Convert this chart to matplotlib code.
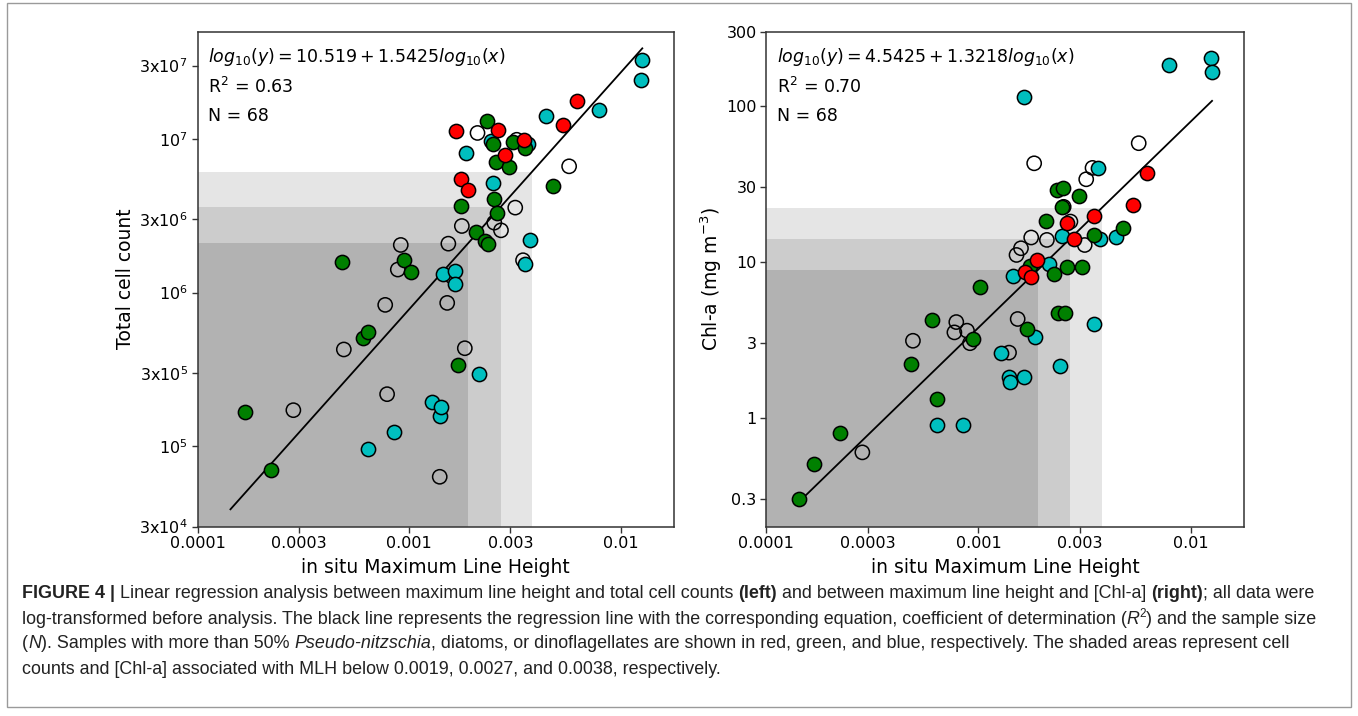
import numpy as np
import matplotlib
matplotlib.use("Agg")
import matplotlib.pyplot as plt
from matplotlib.patches import Rectangle

# ---- data ----
# in situ MLH, total cell count (left), Chl-a (right), per dominant group
green_mlh = [1.431e-4, 1.681e-4, 2.229e-4, 4.82e-4, 6.05e-4, 6.40e-4, 9.47e-4, 1.0165e-3,
             1.694e-3, 1.752e-3, 2.070e-3, 2.278e-3, 2.337e-3, 2.362e-3, 2.480e-3, 2.511e-3,
             2.562e-3, 2.604e-3, 2.972e-3, 3.087e-3, 3.517e-3, 4.80e-3]
green_cells = [2.5e4, 1.672e5, 6.98e4, 1.592e6, 5.07e5, 5.54e5, 1.64e6, 1.356e6,
               3.37e5, 3.66e6, 2.48e6, 2.17e6, 1.302e7, 2.08e6, 9.32e6, 4.07e6,
               7.05e6, 3.27e6, 6.57e6, 9.61e6, 8.73e6, 4.92e6]
green_chla = [0.30, 0.501, 0.799, 2.21, 4.21, 1.31, 3.19, 6.85,
              3.72, 9.39, 18.2, 8.34, 28.9, 4.71, 22.6, 29.6,
              4.71, 9.29, 26.4, 9.29, 14.8, 16.5]

red_mlh = [1.665e-3, 1.762e-3, 1.888e-3, 2.623e-3, 2.830e-3, 3.499e-3, 5.35e-3, 6.23e-3]
red_cells = [1.133e7, 5.46e6, 4.65e6, 1.15e7, 7.91e6, 9.80e6, 1.227e7, 1.765e7]
red_chla = [8.63, 8.01, 10.26, 17.6, 14.0, 19.6, 23.2, 37.3]

cyan_mlh = [6.37e-4, 8.47e-4, 1.277e-3, 1.395e-3, 1.413e-3, 1.447e-3, 1.643e-3, 1.647e-3,
            1.848e-3, 2.138e-3, 2.432e-3, 2.480e-3, 3.519e-3, 3.639e-3, 3.733e-3, 4.43e-3,
            7.87e-3, 1.242e-2, 1.261e-2]
cyan_cells = [9.56e4, 1.24e5, 1.934e5, 1.568e5, 1.786e5, 1.316e6, 1.382e6, 1.133e6,
              8.15e6, 2.94e5, 9.69e6, 5.20e6, 1.529e6, 9.32e6, 2.19e6, 1.414e7,
              1.536e7, 2.41e7, 3.25e7]
cyan_chla = [0.90, 0.90, 2.61, 1.81, 1.70, 8.10, 113.6, 1.81,
             3.30, 9.63, 2.14, 14.7, 4.01, 40.0, 13.9, 14.5,
             183.9, 202.0, 164.0]

other_mlh = [2.836e-4, 4.91e-4, 7.70e-4, 7.86e-4, 8.83e-4, 9.12e-4, 1.393e-3, 1.511e-3,
             1.530e-3, 1.586e-3, 1.772e-3, 1.830e-3, 2.101e-3, 2.521e-3, 2.712e-3, 3.167e-3,
             3.219e-3, 3.447e-3, 5.69e-3]
other_cells = [1.715e5, 4.26e5, 8.31e5, 2.18e5, 1.411e6, 2.04e6, 6.32e4, 8.56e5,
               2.08e6, 1.277e6, 2.71e6, 4.34e5, 1.093e7, 2.85e6, 2.54e6, 3.57e6,
               9.87e6, 1.623e6, 6.63e6]
other_chla = [0.598, 3.11, 3.52, 4.10, 3.61, 3.00, 2.61, 11.05,
              4.29, 12.2, 14.3, 42.8, 13.8, 22.5, 18.1, 12.8,
              33.8, 40.0, 57.6]

# regression coefficients (intercept, slope) and MLH thresholds for shading
fit_cells = (10.519, 1.5425)
fit_chla = (4.5425, 1.3218)
r2_cells, r2_chla = 0.63, 0.70
n_samples = 68
mlh_thresholds = [0.0038, 0.0027, 0.0019]
shade_colors = ["#e5e5e5", "#cccccc", "#b2b2b2"]

xticks = [0.0001, 0.0003, 0.001, 0.003, 0.01]
xticklabels = ["0.0001", "0.0003", "0.001", "0.003", "0.01"]
cells_ticks = [3e4, 1e5, 3e5, 1e6, 3e6, 1e7, 3e7]
cells_ticklabels = [r"3x$\mathregular{10^{4}}$", r"$\mathregular{10^{5}}$", r"3x$\mathregular{10^{5}}$",
                    r"$\mathregular{10^{6}}$", r"3x$\mathregular{10^{6}}$", r"$\mathregular{10^{7}}$",
                    r"3x$\mathregular{10^{7}}$"]
chla_ticks = [0.3, 1, 3, 10, 30, 100, 300]
chla_ticklabels = ["0.3", "1", "3", "10", "30", "100", "300"]

W, H = 1358, 716
fig = plt.figure(figsize=(W / 100, H / 100), dpi=100)
fig.patch.set_facecolor("white")


def panel(rect, ylim, fit, r2, yticks, yticklabels, ylabel, ys, eq, ylab_x):
    ax = fig.add_axes(rect)
    ax.set_xscale("log")
    ax.set_yscale("log")
    xlim = (1e-4, 0.0178)
    ax.set_xlim(*xlim)
    ax.set_ylim(*ylim)
    a, b = fit
    for t, c in zip(mlh_thresholds, shade_colors):
        top = 10 ** (a + b * np.log10(t))
        ax.fill_between([xlim[0], t], ylim[0], top, color=c, lw=0, zorder=0)
    all_x = other_mlh + cyan_mlh + green_mlh + red_mlh
    xf = np.array([min(all_x), max(all_x)])
    ax.plot(xf, 10 ** (a + b * np.log10(xf)), color="black", lw=1.3, zorder=2)
    groups = [(other_mlh, ys[0], "none"), (cyan_mlh, ys[1], "#00bfbf"),
              (green_mlh, ys[2], "#008000"), (red_mlh, ys[3], "#ff0000")]
    for gx, gy, fc in groups:
        ax.scatter(gx, gy, s=105, facecolors=fc, edgecolors="black", linewidths=1.1, zorder=3)
    ax.set_xticks(xticks)
    ax.set_xticklabels(xticklabels)
    ax.set_yticks(yticks)
    ax.set_yticklabels(yticklabels)
    ax.minorticks_off()
    ax.tick_params(labelsize=11.5, length=4, width=1, color="#333333", pad=3)
    for sp in ax.spines.values():
        sp.set_color("#333333")
        sp.set_linewidth(1.1)
    ax.set_xlabel("in situ Maximum Line Height", fontsize=13.5, labelpad=5)
    ax.set_ylabel(ylabel, fontsize=13.5, va="center")
    ax.yaxis.set_label_coords(ylab_x, 0.5)
    ax.text(0.022, 0.948, eq, transform=ax.transAxes, fontsize=12.5, va="center")
    ax.text(0.022, 0.888, r"R$^2$ = %.2f" % r2, transform=ax.transAxes, fontsize=12.5, va="center")
    ax.text(0.022, 0.829, "N = %d" % n_samples, transform=ax.transAxes, fontsize=12.5, va="center")
    return ax


ax1 = panel([197.5 / W, 1 - 526.5 / H, 476.5 / W, 495 / H], (3e4, 5e7), fit_cells, r2_cells,
            cells_ticks, cells_ticklabels, "Total cell count",
            (other_cells, cyan_cells, green_cells, red_cells),
            r"$log_{10}(y) = 10.519 + 1.5425 log_{10}(x)$", (125 - 197.5) / 476.5)
ax2 = panel([766.3 / W, 1 - 526.5 / H, 477.5 / W, 495 / H], (0.2, 300), fit_chla, r2_chla,
            chla_ticks, chla_ticklabels, r"Chl-a (mg m$^{-3}$)",
            (other_chla, cyan_chla, green_chla, red_chla),
            r"$log_{10}(y) = 4.5425 + 1.3218 log_{10}(x)$", (711 - 766.3) / 477.5)

# ---- caption with mixed styles ----
cap_font = ["Liberation Sans Narrow", "Liberation Sans", "DejaVu Sans"]
cap_size = 12.9
cap_color = "#222222"
lines = [
    [("FIGURE 4 | ", "bold", "normal"),
     ("Linear regression analysis between maximum line height and total cell counts ", "normal", "normal"),
     ("(left)", "bold", "normal"),
     (" and between maximum line height and [Chl-a] ", "normal", "normal"),
     ("(right)", "bold", "normal"),
     ("; all data were", "normal", "normal")],
    [("log-transformed before analysis. The black line represents the regression line with the corresponding "
      "equation, coefficient of determination (", "normal", "normal"),
     ("R", "normal", "italic"), ("2", "sup", "normal"),
     (") and the sample size", "normal", "normal")],
    [("(", "normal", "normal"), ("N", "normal", "italic"),
     ("). Samples with more than 50% ", "normal", "normal"),
     ("Pseudo-nitzschia", "normal", "italic"),
     (", diatoms, or dinoflagellates are shown in red, green, and blue, respectively. "
      "The shaded areas represent cell", "normal", "normal")],
    [("counts and [Chl-a] associated with MLH below 0.0019, 0.0027, and 0.0038, respectively.",
      "normal", "normal")],
]
line_y = [593, 619, 644, 669]
renderer = fig.canvas.get_renderer()
for runs, yp in zip(lines, line_y):
    xpos = 22
    for s, weight, style in runs:
        size = cap_size
        dy = 0
        if weight == "sup":
            weight, size, dy = "normal", cap_size * 0.65, -5
        t = fig.text(xpos / W, 1 - (yp + dy) / H, s, fontsize=size, fontweight=weight,
                     fontstyle=style, family=cap_font, color=cap_color, va="center", ha="left")
        bb = t.get_window_extent(renderer)
        xpos += bb.width

# thin frame round the figure
fig.add_artist(Rectangle((7 / W, 1 - 707 / H), (1351 - 7) / W, (707 - 3) / H,
                         transform=fig.transFigure, fill=False, edgecolor="#9a9a9a", lw=1))

fig.savefig("out.png", dpi=100, facecolor="white")
